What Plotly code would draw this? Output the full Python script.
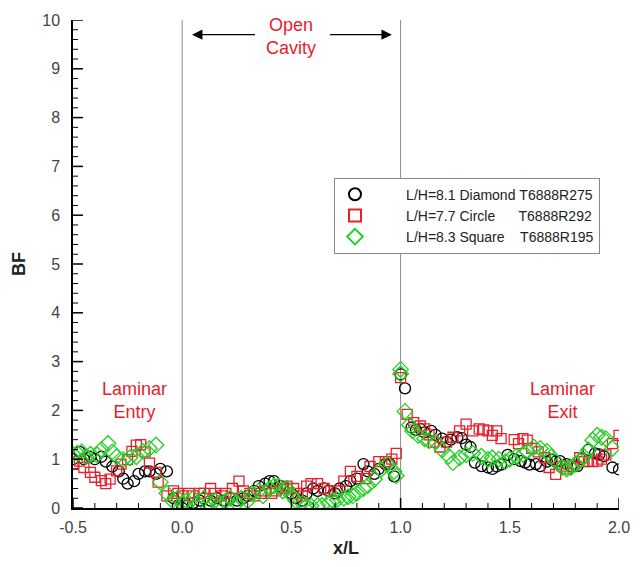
import plotly.graph_objects as go

# Base-flux (BF) distribution along x/L for three open-cavity runs
x_diamond = [-0.50, -0.47, -0.45, -0.42, -0.40, -0.37, -0.35, -0.32, -0.29, -0.27, -0.25, -0.22,
             -0.20, -0.17, -0.15, -0.12, -0.10, -0.07, -0.04, -0.02, 0.00, 0.02, 0.05, 0.08,
             0.10, 0.13, 0.16, 0.19, 0.22, 0.25, 0.28, 0.30, 0.33, 0.35, 0.38, 0.40, 0.42,
             0.45, 0.48, 0.50, 0.52, 0.55, 0.57, 0.60, 0.62, 0.65, 0.67, 0.70, 0.72, 0.75,
             0.77, 0.80, 0.83, 0.85, 0.88, 0.90, 0.93, 0.95, 0.97, 1.00, 1.02, 1.05, 1.07,
             1.09, 1.11, 1.14, 1.16, 1.19, 1.21, 1.23, 1.26, 1.28, 1.30, 1.32, 1.34, 1.37,
             1.40, 1.42, 1.44, 1.46, 1.49, 1.52, 1.55, 1.57, 1.59, 1.62, 1.64, 1.67, 1.69,
             1.71, 1.73, 1.76, 1.78, 1.81, 1.83, 1.86, 1.89, 1.91, 1.93, 1.97, 2.00]
bf_diamond = [1.00, 1.15, 1.00, 1.05, 1.00, 1.05, 0.95, 0.85, 0.75, 0.60, 0.50, 0.55,
              0.70, 0.75, 0.75, 0.70, 0.80, 0.75, 0.20, 0.05, 0.00, 0.05, 0.10, 0.15,
              0.20, 0.15, 0.20, 0.15, 0.20, 0.15, 0.20, 0.25, 0.35, 0.45, 0.50, 0.55, 0.55,
              0.45, 0.40, 0.30, 0.20, 0.15, 0.30, 0.40, 0.35, 0.40, 0.35, 0.30, 0.40, 0.45,
              0.55, 0.60, 0.90, 0.75, 0.70, 0.80, 0.90, 0.90, 0.65, 2.74, 2.45, 1.65, 1.60,
              1.62, 1.55, 1.58, 1.50, 1.42, 1.35, 1.40, 1.45, 1.43, 1.30, 1.25, 0.93, 0.86,
              0.83, 0.80, 0.85, 0.89, 1.09, 1.00, 0.96, 0.93, 0.89, 0.90, 0.86, 0.95, 0.99,
              0.95, 0.96, 0.90, 0.85, 0.86, 1.00, 1.19, 1.12, 1.10, 1.06, 0.83, 0.79]

x_circle = [-0.50, -0.47, -0.45, -0.42, -0.40, -0.37, -0.35, -0.33, -0.30, -0.28, -0.25, -0.23,
            -0.21, -0.19, -0.17, -0.15, -0.12, -0.11, -0.07, -0.04, -0.02, 0.00, 0.03, 0.05,
            0.08, 0.10, 0.13, 0.15, 0.18, 0.20, 0.23, 0.26, 0.28, 0.31, 0.33, 0.36, 0.38,
            0.41, 0.43, 0.46, 0.48, 0.51, 0.53, 0.55, 0.57, 0.59, 0.62, 0.65, 0.68, 0.71,
            0.74, 0.77, 0.80, 0.84, 0.86, 0.90, 0.93, 0.96, 0.98, 1.00, 1.03, 1.06, 1.09,
            1.11, 1.13, 1.15, 1.18, 1.21, 1.24, 1.27, 1.30, 1.33, 1.36, 1.38, 1.40, 1.42,
            1.44, 1.46, 1.52, 1.54, 1.56, 1.58, 1.60, 1.63, 1.66, 1.68, 1.71, 1.74, 1.76,
            1.79, 1.82, 1.84, 1.86, 1.88, 1.90, 1.92, 1.94, 1.97, 2.00]
bf_circle = [0.90, 0.96, 0.83, 0.73, 0.63, 0.56, 0.50, 0.59, 0.76, 0.90, 0.99, 1.16,
             1.29, 1.30, 1.15, 0.92, 0.73, 0.53, 0.25, 0.35, 0.30, 0.25, 0.30, 0.25,
             0.30, 0.30, 0.40, 0.30, 0.25, 0.30, 0.40, 0.55, 0.35, 0.30, 0.25, 0.30, 0.35,
             0.30, 0.35, 0.40, 0.45, 0.40, 0.30, 0.25, 0.45, 0.50, 0.50, 0.40, 0.35, 0.35,
             0.55, 0.75, 0.65, 0.60, 0.85, 0.95, 0.95, 1.00, 1.12, 2.67, 1.92, 1.75, 1.68,
             1.62, 1.50, 1.35, 1.25, 1.35, 1.45, 1.58, 1.72, 1.58, 1.62, 1.60, 1.58, 1.49,
             1.58, 1.42, 1.40, 1.32, 1.42, 1.39, 1.22, 1.15, 1.03, 0.83, 0.69, 0.86, 0.80,
             0.86, 1.03, 0.95, 0.96, 0.95, 0.96, 1.00, 1.09, 1.32, 1.49]

x_square = [-0.50, -0.48, -0.46, -0.44, -0.42, -0.39, -0.37, -0.34, -0.32, -0.30, -0.27, -0.24,
            -0.21, -0.18, -0.15, -0.12, -0.10, -0.07, -0.045, -0.02, 0.00, 0.02, 0.05, 0.07,
            0.10, 0.12, 0.15, 0.17, 0.20, 0.22, 0.25, 0.27, 0.30, 0.32, 0.35, 0.37, 0.40,
            0.42, 0.44, 0.46, 0.48, 0.50, 0.52, 0.55, 0.57, 0.59, 0.62, 0.64, 0.67, 0.69,
            0.71, 0.74, 0.76, 0.78, 0.80, 0.83, 0.85, 0.88, 0.91, 0.94, 0.97, 0.98, 1.00,
            1.00, 1.02, 1.04, 1.055, 1.08, 1.11, 1.13, 1.16, 1.19, 1.22, 1.24, 1.27, 1.30,
            1.33, 1.37, 1.40, 1.42, 1.45, 1.48, 1.50, 1.53, 1.56, 1.58, 1.61, 1.64, 1.67,
            1.69, 1.71, 1.74, 1.76, 1.78, 1.80, 1.82, 1.84, 1.86, 1.88, 1.90, 1.92, 1.94,
            1.97]
bf_square = [1.10, 1.12, 1.15, 1.05, 1.10, 1.09, 1.20, 1.32, 1.15, 1.05, 0.99, 1.03,
             1.05, 1.16, 1.22, 1.29, 0.53, 0.30, 0.15, 0.20, 0.10, 0.15, 0.20, 0.10,
             0.20, 0.10, 0.15, 0.10, 0.15, 0.20, 0.10, 0.20, 0.15, 0.30, 0.35, 0.25, 0.40,
             0.45, 0.45, 0.35, 0.40, 0.26, 0.15, 0.10, 0.05, 0.04, 0.05, 0.05, 0.10, 0.15,
             0.17, 0.20, 0.23, 0.25, 0.30, 0.40, 0.46, 0.59, 0.79, 0.89, 0.75, 0.66, 2.84,
             2.75, 1.98, 1.70, 1.58, 1.49, 1.42, 1.38, 1.35, 1.19, 1.06, 0.93, 1.03, 1.09,
             1.12, 1.06, 1.00, 1.03, 1.00, 0.95, 1.00, 1.06, 1.10, 1.16, 1.25, 1.22, 1.16,
             1.05, 0.96, 0.83, 0.80, 0.83, 0.90, 0.96, 1.05, 1.19, 1.39, 1.49, 1.45, 1.42,
             1.22]

NB = "\u00a0"
series_names = [
    NB * 8 + "L/H=8.1 Diamond" + NB + "T6888R275",
    NB * 8 + "L/H=7.7 Circle" + NB * 6 + "T6888R292",
    NB * 8 + "L/H=8.3 Square" + NB * 4 + "T6888R195",
]

x_ticks = [-0.5, 0.0, 0.5, 1.0, 1.5, 2.0]
x_ticklabels = ["-0.5", "0.0", "0.5", "1.0", "1.5", "2.0"]
y_ticks = list(range(0, 11))
x_minor = [round(-0.5 + 0.1 * i, 2) for i in range(26)]
y_minor = [round(0.2 * i, 2) for i in range(51)]

BLACK = "black"
RED = "#e8202c"
GREEN = "#22d022"
FONT = "Liberation Sans, Arial, sans-serif"

fig = go.Figure()
fig.add_trace(go.Scatter(
    x=x_diamond, y=bf_diamond, mode="markers", name=series_names[0],
    marker=dict(symbol="circle-open", size=11, color=BLACK, line=dict(width=1.3, color=BLACK))))
fig.add_trace(go.Scatter(
    x=x_circle, y=bf_circle, mode="markers", name=series_names[1],
    marker=dict(symbol="square-open", size=10, color=RED, line=dict(width=1.3, color=RED))))
fig.add_trace(go.Scatter(
    x=x_square, y=bf_square, mode="markers", name=series_names[2],
    marker=dict(symbol="diamond-open", size=12, color=GREEN, line=dict(width=1.3, color=GREEN))))

# cavity edges
for xv in (0.0, 1.0):
    fig.add_shape(type="line", x0=xv, x1=xv, y0=0, y1=10, xref="x", yref="y",
                  line=dict(color="#8a8a8a", width=1), layer="between")

# inward tick marks, fixed pixel length, anchored on the axis lines
for t in x_minor:
    is_major = any(abs(t - m) < 1e-9 for m in x_ticks)
    fig.add_shape(type="line", xref="x", yref="y", x0=t, x1=t,
                  ysizemode="pixel", yanchor=0, y0=0, y1=10 if is_major else 5,
                  line=dict(color="black", width=1.5 if is_major else 1), layer="above")
for t in y_minor:
    is_major = any(abs(t - m) < 1e-9 for m in y_ticks)
    fig.add_shape(type="line", xref="x", yref="y", y0=t, y1=t,
                  xsizemode="pixel", xanchor=-0.5, x0=0, x1=10 if is_major else 5,
                  line=dict(color="black", width=1.5 if is_major else 1), layer="above")

annot_font = dict(family=FONT, size=18, color=RED)
fig.add_annotation(x=0.5, y=9.67, xref="x", yref="y", text="Open<br>Cavity",
                   showarrow=False, font=annot_font, align="center")
fig.add_annotation(x=-0.22, y=2.2, xref="x", yref="y", text="Laminar<br>Entry",
                   showarrow=False, font=annot_font, align="center")
fig.add_annotation(x=1.74, y=2.2, xref="x", yref="y", text="Laminar<br>Exit",
                   showarrow=False, font=annot_font, align="center")

# span arrows
for head, tail in ((0.045, 0.34), (0.96, 0.67)):
    fig.add_annotation(x=head, y=9.7, ax=tail, ay=9.7, xref="x", yref="y",
                       axref="x", ayref="y", text="", showarrow=True,
                       arrowhead=2, arrowsize=1.6, arrowwidth=1.3, arrowcolor="black")

fig.update_layout(
    width=642, height=567,
    margin=dict(l=73, r=19, t=15, b=47),
    paper_bgcolor="white", plot_bgcolor="white",
    showlegend=True,
    legend=dict(
        x=0.478, y=0.677, xanchor="left", yanchor="top",
        bgcolor="white", bordercolor="#888888", borderwidth=1,
        font=dict(family=FONT, size=14, color="#222222"),
        tracegroupgap=0, itemsizing="constant",
    ),
    xaxis=dict(
        range=[-0.5, 2.0], tickmode="array", tickvals=x_ticks, ticktext=x_ticklabels,
        ticks="", showline=True, linecolor="black", linewidth=1.5,
        showgrid=False, zeroline=False, ticklabelstandoff=4,
        tickfont=dict(family=FONT, size=16, color="#444444"),
        title=dict(text="<b>x/L</b>", font=dict(family=FONT, size=18, color="#222222"), standoff=6),
    ),
    yaxis=dict(
        range=[0, 10], tickmode="array", tickvals=y_ticks,
        ticks="", showline=True, linecolor="black", linewidth=1.5,
        showgrid=False, zeroline=False, ticklabelstandoff=8,
        tickfont=dict(family=FONT, size=16, color="#444444"),
        title=dict(text="<b>BF</b>", font=dict(family=FONT, size=18, color="#222222"), standoff=12),
    ),
)

fig.write_html("out.html")
